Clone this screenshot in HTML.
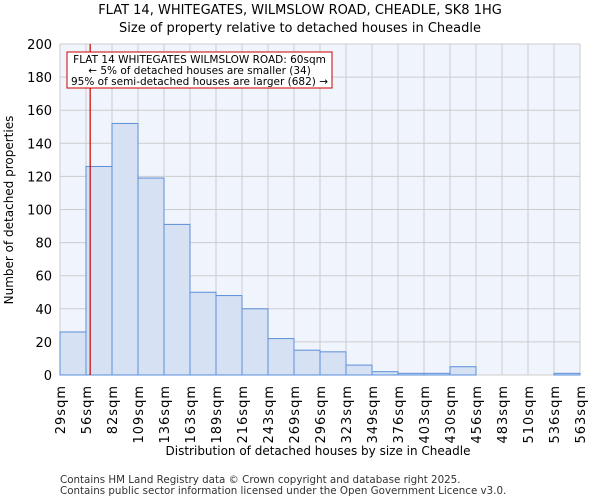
<!DOCTYPE html>
<html><head><meta charset="utf-8"><style>
body{margin:0;background:#fff;font-family:"DejaVu Sans","Liberation Sans",sans-serif}
svg text{font-family:"DejaVu Sans","Liberation Sans",sans-serif}
</style></head><body>
<svg id="c" width="600" height="500" xmlns="http://www.w3.org/2000/svg">
<text x="300" y="14" text-anchor="middle" font-size="13">FLAT 14, WHITEGATES, WILMSLOW ROAD, CHEADLE, SK8 1HG</text>
<text x="300" y="32" text-anchor="middle" font-size="13">Size of property relative to detached houses in Cheadle</text>
<rect x="60" y="44" width="520" height="331" fill="#f0f4fc"/>
<g id="grid"></g><g id="bars"></g><g id="axes"></g>
<text x="318" y="455" text-anchor="middle" font-size="12">Distribution of detached houses by size in Cheadle</text>
<text transform="translate(13,210) rotate(-90)" text-anchor="middle" font-size="12">Number of detached properties</text>
<text x="60" y="483" font-size="10.3" fill="#333">Contains HM Land Registry data © Crown copyright and database right 2025.</text>
<text x="60" y="494" font-size="10.3" fill="#333">Contains public sector information licensed under the Open Government Licence v3.0.</text>
</svg>
<script>
const binLabels=["29sqm","56sqm","82sqm","109sqm","136sqm","163sqm","189sqm","216sqm","243sqm","269sqm","296sqm","323sqm","349sqm","376sqm","403sqm","430sqm","456sqm","483sqm","510sqm","536sqm","563sqm"];
const counts=[26,126,152,119,91,50,48,40,22,15,14,6,2,1,1,5,0,0,0,1];
const yTicks=[0,20,40,60,80,100,120,140,160,180,200];
const markerIndex=1.16;
const ns="http://www.w3.org/2000/svg";
const X0=60,X1=580,Y0=375,Y1=44;
const xs=i=>X0+i*(X1-X0)/counts.length;
const ys=v=>Y0-v/200*(Y0-Y1);
function mk(t,a,p){const e=document.createElementNS(ns,t);for(const k in a)e.setAttribute(k,a[k]);p.appendChild(e);return e;}
const g=document.getElementById('grid'),b=document.getElementById('bars'),ax=document.getElementById('axes');
yTicks.forEach(v=>{
const l=mk('line',{x1:X0,x2:X1,y1:ys(v),y2:ys(v),stroke:'#ccc'},g);


const t=mk('text',{x:X0-8,y:ys(v)+5,'text-anchor':'end','font-size':13},ax);t.textContent=v;


});
binLabels.forEach((s,i)=>{
const l=mk('line',{x1:xs(i),x2:xs(i),y1:Y1,y2:Y0,stroke:'#ccc'},g);


const t=mk('text',{transform:`translate(${xs(i)+5},385) rotate(-90)`,'text-anchor':'end','font-size':13,'letter-spacing':'1'},ax);t.textContent=s;


});
counts.forEach((v,i)=>{
if(v<=0)return;
const r=mk('rect',{x:xs(i),y:ys(v),width:xs(i+1)-xs(i),height:Y0-ys(v),fill:'#d6e1f3',stroke:'#5b8fd8','stroke-width':1},b);


});
const ml=mk('line',{x1:xs(markerIndex),x2:xs(markerIndex),y1:Y1,y2:Y0,stroke:'#cc0000','stroke-width':1.2},ax);


const bx=mk('rect',{x:67,y:52,width:265,height:36,fill:'#fff',stroke:'#cc0000'},ax);


["FLAT 14 WHITEGATES WILMSLOW ROAD: 60sqm","← 5% of detached houses are smaller (34)","95% of semi-detached houses are larger (682) →"].forEach((s,i)=>{
const t=mk('text',{x:199.5,y:63+i*11,'text-anchor':'middle','font-size':10.5},ax);t.textContent=s;


});
</script>
</body></html>
